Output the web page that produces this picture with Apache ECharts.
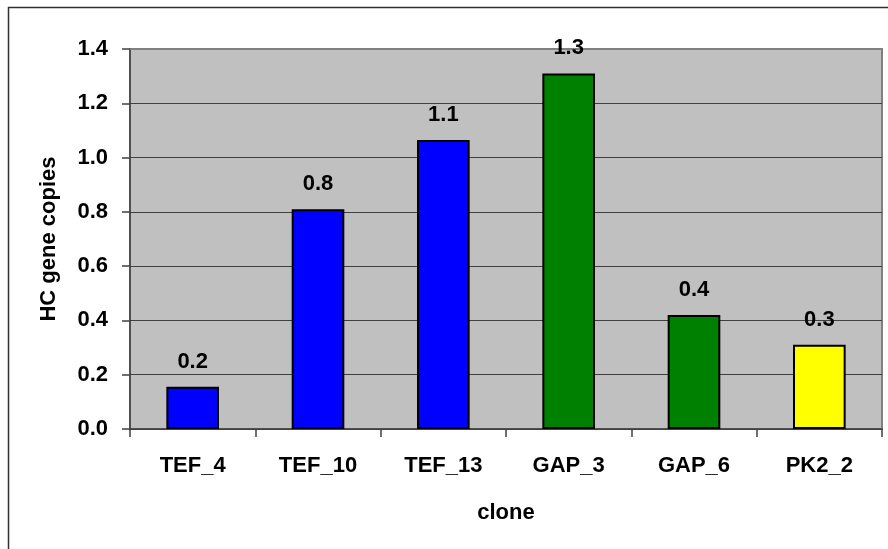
<!DOCTYPE html>
<html>
<head>
<meta charset="utf-8">
<script src="https://cdn.jsdelivr.net/npm/echarts@6/dist/echarts.min.js"></script>
<style>
  html, body { margin: 0; padding: 0; background: #ffffff; }
  #chart { width: 888px; height: 549px; }
</style>
</head>
<body>
<div id="chart"></div>
<script>
// Clones measured and their HC gene copy numbers
const clones = ['TEF_4', 'TEF_10', 'TEF_13', 'GAP_3', 'GAP_6', 'PK2_2'];
const copies = [0.156, 0.81, 1.065, 1.31, 0.42, 0.31];
const barColors = ['#0000FF', '#0000FF', '#0000FF', '#008000', '#008000', '#FFFF00'];
const yTicks = { min: 0, max: 1.4, step: 0.2 };

const FONT = '"Liberation Sans", Arial, sans-serif';
const textStyle = { fontFamily: FONT, fontWeight: 'bold', fontSize: 22, color: '#000' };

const chart = echarts.init(document.getElementById('chart'), null, { renderer: 'canvas' });

chart.setOption({
  animation: false,
  backgroundColor: '#ffffff',
  grid: {
    left: 130, right: 6, top: 49, bottom: 120,
    show: true,
    backgroundColor: '#C0C0C0',
    borderColor: '#808080',
    borderWidth: 2
  },
  xAxis: [{
    type: 'category',
    data: clones,
    name: 'clone',
    nameLocation: 'middle',
    nameGap: 73,
    nameTextStyle: textStyle,
    axisLine: { show: true, lineStyle: { color: '#404040', width: 1.5 } },
    axisTick: { show: true, length: 8, lineStyle: { color: '#404040', width: 1.5 } },
    axisLabel: Object.assign({ margin: 26 }, textStyle),
    splitLine: { show: false }
  }, {
    // top edge of the plot area
    type: 'category',
    data: clones,
    position: 'top',
    axisLine: { show: true, lineStyle: { color: '#808080', width: 2 } },
    axisTick: { show: false },
    axisLabel: { show: false },
    splitLine: { show: false }
  }],
  yAxis: {
    type: 'value',
    min: yTicks.min,
    max: yTicks.max,
    interval: yTicks.step,
    name: 'HC gene copies',
    nameLocation: 'middle',
    nameGap: 70,
    nameRotate: 90,
    nameTextStyle: textStyle,
    axisLine: { show: true, lineStyle: { color: '#404040', width: 1.5 } },
    axisTick: { show: true, length: 8, lineStyle: { color: '#404040', width: 1.5 } },
    axisLabel: Object.assign({ margin: 22, formatter: v => v.toFixed(1) }, textStyle),
    splitLine: { show: true, lineStyle: { color: '#404040', width: 1 } }
  },
  series: [{
    type: 'bar',
    xAxisIndex: 0,
    barWidth: '42%',
    data: copies.map((v, i) => ({
      value: v,
      itemStyle: { color: barColors[i], borderColor: '#000', borderWidth: 2 }
    })),
    label: Object.assign({
      show: true,
      position: 'top',
      distance: 14,
      formatter: p => p.value.toFixed(1)
    }, textStyle)
  }],
  graphic: [{
    type: 'polyline',
    shape: { points: [[8.5, 549], [8.5, 7.5], [888, 7.5]] },
    style: { stroke: '#303030', lineWidth: 1.5, fill: null },
    silent: true
  }]
});
</script>
</body>
</html>
